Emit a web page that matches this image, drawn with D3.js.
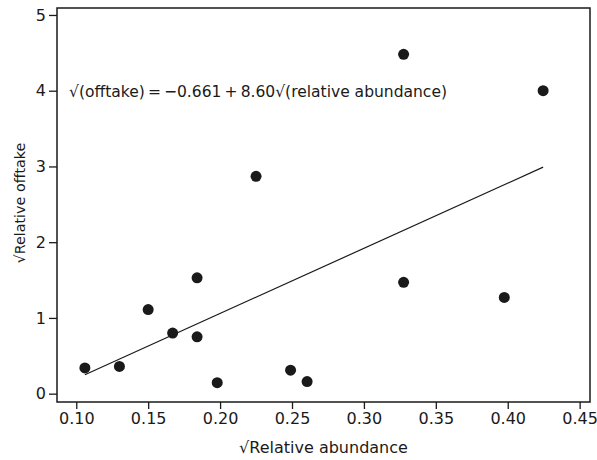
<!DOCTYPE html>
<html>
<head>
<meta charset="utf-8">
<script src="https://cdn.jsdelivr.net/npm/d3@7"></script>
<style>
  body { margin: 0; background: #fff; }
  text { font-family: "DejaVu Sans", Verdana, sans-serif; fill: #1a1a1a; }
</style>
</head>
<body>
<div id="canvas"></div>
<script>
// sqrt relative abundance / sqrt relative offtake
const abundance = [0.106, 0.130, 0.150, 0.167, 0.184, 0.184, 0.198, 0.225, 0.249, 0.2605, 0.3276, 0.3276, 0.3976, 0.4246];
const offtake   = [0.34, 0.36, 1.11, 0.80, 1.53, 0.75, 0.145, 2.87, 0.31, 0.16, 4.48, 1.47, 1.27, 4.00];
const xTicks = [0.10, 0.15, 0.20, 0.25, 0.30, 0.35, 0.40, 0.45];
const yTicks = [0, 1, 2, 3, 4, 5];
const intercept = -0.661;
const slope = 8.60;

const width = 597;
const height = 460;
const margin = { top: 8, left: 57, bottom: 58, right: 7 };
const iwidth = width - margin.left - margin.right;
const iheight = height - margin.top - margin.bottom;

const svg = d3.select("#canvas").append("svg")
  .attr("width", width)
  .attr("height", height);

const g = svg.append("g").attr("transform", `translate(${margin.left},${margin.top})`);

const x = d3.scaleLinear().domain([0.0866, 0.4572]).range([0, iwidth]);
const y = d3.scaleLinear().domain([-0.11, 5.092]).range([iheight, 0]);

const data = abundance.map((a, i) => ({ a: a, o: offtake[i] }));

// regression line over the observed range
const x0 = d3.min(abundance), x1 = d3.max(abundance);
g.append("line")
  .attr("x1", x(x0)).attr("y1", y(intercept + slope * x0))
  .attr("x2", x(x1)).attr("y2", y(intercept + slope * x1))
  .attr("stroke", "#1a1a1a")
  .attr("stroke-width", 1.2);

g.selectAll("circle").data(data).enter().append("circle")
  .attr("cx", d => x(d.a))
  .attr("cy", d => y(d.o))
  .attr("r", 5.5)
  .attr("fill", "#1a1a1a");

// frame
g.append("rect")
  .attr("width", iwidth).attr("height", iheight)
  .attr("fill", "none").attr("stroke", "#1a1a1a").attr("stroke-width", 1.5);

const xAxis = g.append("g")
  .attr("transform", `translate(0,${iheight})`)
  .call(d3.axisBottom(x).tickValues(xTicks).tickFormat(d3.format(".2f")).tickSize(7).tickPadding(4).tickSizeOuter(0));

const yAxis = g.append("g")
  .call(d3.axisLeft(y).tickValues(yTicks).tickFormat(d3.format("d")).tickSize(8).tickPadding(3).tickSizeOuter(0));

[xAxis, yAxis].forEach(ax => {
  ax.select(".domain").remove();
  ax.selectAll(".tick line").attr("stroke", "#1a1a1a").attr("stroke-width", 1.3);
  ax.selectAll(".tick text").attr("font-size", 16).attr("font-family", "DejaVu Sans").attr("fill", "#1a1a1a");
});

svg.append("text")
  .attr("x", margin.left + iwidth / 2)
  .attr("y", 453)
  .attr("text-anchor", "middle")
  .attr("font-size", 16)
  .text("√Relative abundance");

svg.append("text")
  .attr("transform", "translate(25,203) rotate(-90)")
  .attr("text-anchor", "middle")
  .attr("font-size", 14.3)
  .text("√Relative offtake");

svg.append("text")
  .attr("x", 69)
  .attr("y", 97)
  .attr("font-size", 16)
  .attr("textLength", 378)
  .attr("lengthAdjust", "spacingAndGlyphs")
  .text(`√(offtake)\u2009=\u2009−${Math.abs(intercept).toFixed(3)}\u2009+\u2009${slope.toFixed(2)}√(relative abundance)`);
</script>
</body>
</html>
